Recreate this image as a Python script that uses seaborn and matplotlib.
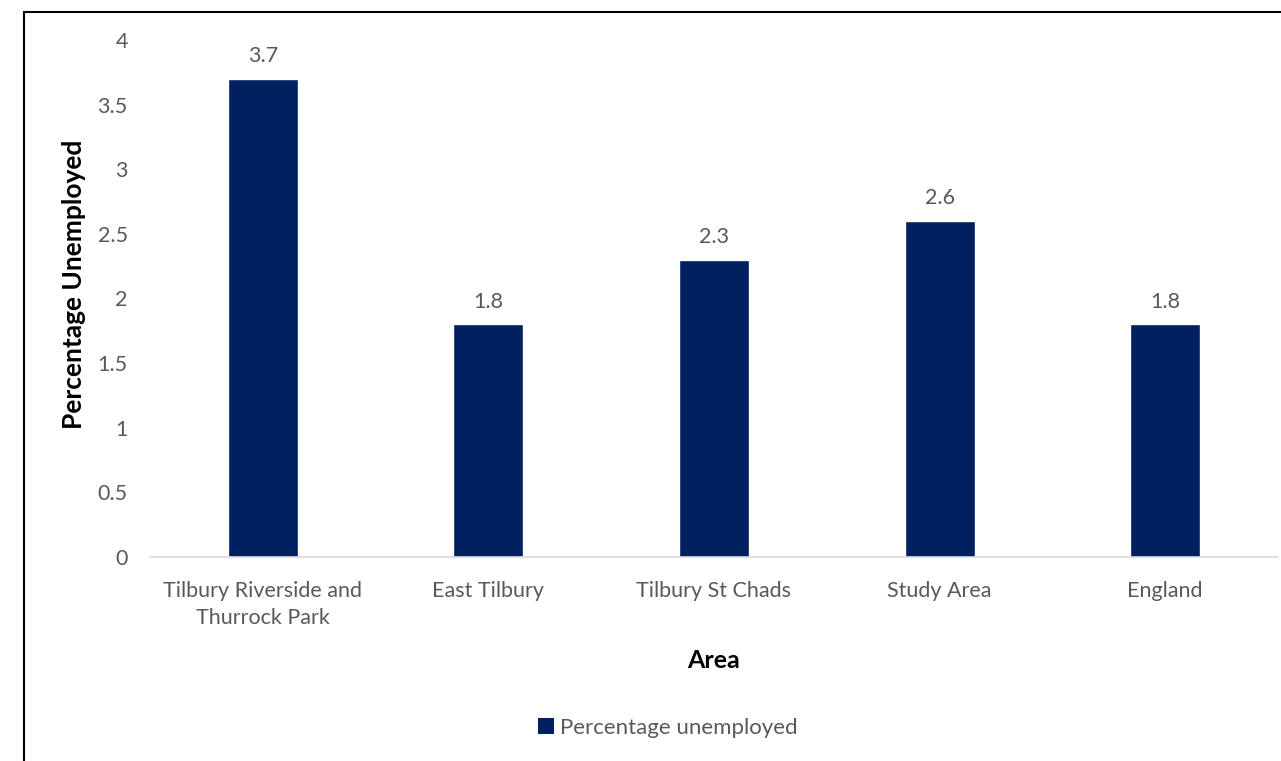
import matplotlib
matplotlib.use("Agg")
import matplotlib.pyplot as plt
from matplotlib.lines import Line2D
from matplotlib.patches import Patch
import seaborn as sns
import pandas as pd

areas = ["Tilbury Riverside and\nThurrock Park", "East Tilbury", "Tilbury St Chads",
         "Study Area", "England"]
unemployed = [3.7, 1.8, 2.3, 2.6, 1.8]
y_ticks = [0, 0.5, 1, 1.5, 2, 2.5, 3, 3.5, 4]
y_tick_labels = ["0", "0.5", "1", "1.5", "2", "2.5", "3", "3.5", "4"]

sns.set_theme(style="white")
plt.rcParams["font.family"] = ["Lato", "DejaVu Sans"]

bar_color = "#002060"
text_color = "#595959"

df = pd.DataFrame({"Area": areas, "Percentage unemployed": unemployed})

fig = plt.figure(figsize=(12.81, 7.61), dpi=100)
ax = fig.add_axes([150 / 1281, 1 - 557 / 761, 1128 / 1281, 517 / 761])

sns.barplot(data=df, x="Area", y="Percentage unemployed", color=bar_color,
            width=0.31, saturation=1, ax=ax)

ax.set_xlim(-0.5, len(areas) - 0.5)
ax.set_ylim(0, 4)
ax.set_yticks(y_ticks)
ax.set_yticklabels(y_tick_labels)

for i, v in enumerate(unemployed):
    ax.annotate(f"{v:g}", (i, v), xytext=(0, 9), textcoords="offset points",
                ha="center", va="bottom", fontsize=15.5, color=text_color)

for side in ["top", "right", "left"]:
    ax.spines[side].set_visible(False)
ax.spines["bottom"].set_color("#d9d9d9")
ax.spines["bottom"].set_linewidth(1.2)
ax.tick_params(axis="both", length=0, labelsize=15.5, labelcolor=text_color)
ax.tick_params(axis="x", pad=17)
ax.tick_params(axis="y", pad=16)
for lbl in ax.get_xticklabels():
    lbl.set_linespacing(1.45)

ax.set_xlabel("Area", fontsize=18, fontweight="bold", color="black")
ax.xaxis.set_label_coords(0.5, (557 - 660) / 517)
ax.xaxis.label.set_va("center")
ax.set_ylabel("Percentage Unemployed", fontsize=19, fontweight="bold", color="black")
ax.yaxis.set_label_coords((74 - 150) / 1128, (557 - 284) / 517)
ax.yaxis.label.set_va("center")

handles = [Patch(facecolor=bar_color, edgecolor="none", label="Percentage unemployed")]
fig.legend(handles=handles, loc="center", bbox_to_anchor=(668 / 1281, 1 - 728 / 761),
           frameon=False, fontsize=16, handlelength=0.7, handleheight=0.7,
           handletextpad=0.3, labelcolor=text_color)

# outer frame (top and left edges)
fig.add_artist(Line2D([24 / 1281, 1.0], [1 - 12 / 761, 1 - 12 / 761],
                      transform=fig.transFigure, color="black", linewidth=1.5))
fig.add_artist(Line2D([24 / 1281, 24 / 1281], [0.0, 1 - 12 / 761],
                      transform=fig.transFigure, color="black", linewidth=1.5))

fig.savefig("out.png", dpi=100, facecolor="white")
